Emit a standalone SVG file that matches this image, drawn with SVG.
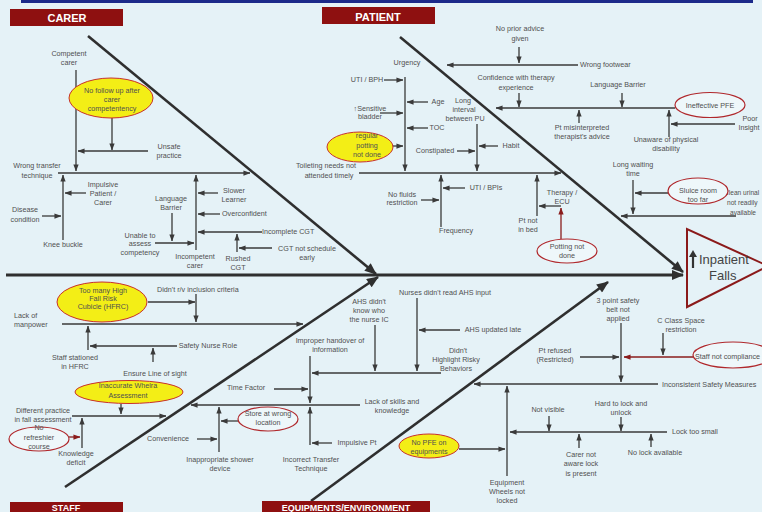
<svg xmlns="http://www.w3.org/2000/svg" width="762" height="512" viewBox="0 0 762 512">
<defs>
<style>
.t{font-family:"Liberation Sans",Arial,sans-serif;font-size:7.2px;fill:#505050;text-anchor:middle}
.s{text-anchor:start}
.l{stroke:#3a3a3a;stroke-width:1.3;fill:none;marker-end:url(#a)}
.lr{stroke:#8a1c1c;stroke-width:1.3;fill:none;marker-end:url(#r)}
.d{stroke:#2f2f2f;stroke-width:2.6;fill:none;marker-end:url(#b)}
.y{fill:#f3ee16;stroke:#c8302c;stroke-width:1}
.e{fill:#eef7fa;stroke:#b0282c;stroke-width:1.2}
.h{fill:#8e1010}
.ht{font-family:"Liberation Sans",Arial,sans-serif;font-size:11px;font-weight:bold;fill:#ffffff;text-anchor:middle}
</style>
<marker id="a" viewBox="0 0 8 6" refX="7.5" refY="3" markerWidth="7" markerHeight="5.5" orient="auto" markerUnits="userSpaceOnUse"><path d="M0,0L8,3L0,6z" fill="#3a3a3a"/></marker>
<marker id="r" viewBox="0 0 8 6" refX="7.5" refY="3" markerWidth="7" markerHeight="5.5" orient="auto" markerUnits="userSpaceOnUse"><path d="M0,0L8,3L0,6z" fill="#8a1c1c"/></marker>
<marker id="b" viewBox="0 0 12 10" refX="11" refY="5" markerWidth="13" markerHeight="10" orient="auto" markerUnits="userSpaceOnUse"><path d="M0,0L12,5L0,10z" fill="#2f2f2f"/></marker>
</defs>
<rect x="0" y="0" width="762" height="512" fill="#e5f2f7"/>
<rect x="21" y="0" width="732" height="3" fill="#1c2a8a"/>

<g id="connectors">
<line class="d" x1="6" y1="275" x2="683" y2="275" style="stroke-width:3"/>
<line class="d" x1="88" y1="36" x2="376" y2="274"/>
<line class="d" x1="400" y1="37" x2="683" y2="272"/>
<line class="d" x1="65" y1="487" x2="378" y2="277"/>
<line class="d" x1="311" y1="501" x2="608" y2="282"/>

<line class="l" x1="58" y1="173" x2="250" y2="173"/>
<line class="l" x1="76" y1="70" x2="76" y2="171"/>
<line class="l" x1="148" y1="151" x2="78" y2="151"/>
<line class="l" x1="112" y1="118" x2="112" y2="150"/>
<line class="l" x1="63" y1="240" x2="63" y2="175"/>
<line class="l" x1="86" y1="193" x2="65" y2="193"/>
<line class="l" x1="42" y1="216" x2="61" y2="216"/>
<line class="l" x1="196" y1="250" x2="196" y2="175"/>
<line class="l" x1="218" y1="193" x2="198" y2="193"/>
<line class="l" x1="220" y1="214" x2="198" y2="214"/>
<line class="l" x1="262" y1="232" x2="198" y2="232"/>
<line class="l" x1="237" y1="252" x2="237" y2="234"/>
<line class="l" x1="272" y1="248" x2="239" y2="248"/>
<line class="l" x1="172" y1="213" x2="172" y2="241"/>
<line class="l" x1="155" y1="243" x2="194" y2="243"/>

<line class="l" x1="519" y1="47" x2="519" y2="63"/>
<line class="l" x1="578" y1="65" x2="447" y2="65"/>
<line class="l" x1="519" y1="93" x2="519" y2="107"/>
<line class="l" x1="622" y1="93" x2="622" y2="107"/>
<line class="l" x1="675" y1="108" x2="496" y2="108"/>
<line class="l" x1="579" y1="123" x2="579" y2="110"/>
<line class="l" x1="669" y1="137" x2="669" y2="110"/>
<line class="l" x1="735" y1="124" x2="671" y2="124"/>
<line class="l" x1="405" y1="77" x2="405" y2="171"/>
<line class="l" x1="384" y1="80" x2="403" y2="80"/>
<line class="l" x1="428" y1="102" x2="407" y2="102"/>
<line class="l" x1="380" y1="113" x2="403" y2="113"/>
<line class="l" x1="428" y1="128" x2="407" y2="128"/>
<line class="l" x1="385" y1="146" x2="403" y2="146"/>
<line class="l" x1="477" y1="124" x2="477" y2="171"/>
<line class="l" x1="457" y1="151" x2="475" y2="151"/>
<line class="l" x1="498" y1="146" x2="479" y2="146"/>
<line class="l" x1="359" y1="173" x2="561" y2="173"/>
<line class="l" x1="441" y1="227" x2="441" y2="175"/>
<line class="l" x1="465" y1="188" x2="443" y2="188"/>
<line class="l" x1="421" y1="200" x2="439" y2="200"/>
<line class="l" x1="537" y1="216" x2="537" y2="175"/>
<line class="l" x1="561" y1="206" x2="539" y2="206"/>
<line class="lr" x1="561" y1="239" x2="561" y2="208"/>
<line class="l" x1="633" y1="180" x2="633" y2="214"/>
<line class="l" x1="668" y1="193" x2="635" y2="193"/>
<line class="l" x1="736" y1="216" x2="621" y2="216"/>

<line class="l" x1="148" y1="302" x2="195" y2="302"/>
<line class="l" x1="196" y1="294" x2="196" y2="322"/>
<line class="l" x1="62" y1="324" x2="303" y2="324"/>
<line class="l" x1="88" y1="350" x2="88" y2="326"/>
<line class="l" x1="177" y1="346" x2="90" y2="346"/>
<line class="l" x1="153" y1="362" x2="153" y2="348"/>
<line class="l" x1="121" y1="404" x2="121" y2="414"/>
<line class="l" x1="72" y1="416" x2="166" y2="416"/>
<line class="l" x1="82" y1="448" x2="82" y2="418"/>
<line class="lr" x1="58" y1="437" x2="80" y2="437"/>
<line class="l" x1="360" y1="405" x2="191" y2="405"/>
<line class="l" x1="247" y1="421" x2="221" y2="421"/>
<line class="l" x1="219" y1="452" x2="219" y2="407"/>
<line class="l" x1="197" y1="439" x2="217" y2="439"/>
<line class="l" x1="310" y1="356" x2="310" y2="403"/>
<line class="l" x1="274" y1="389" x2="308" y2="389"/>
<line class="l" x1="310" y1="445" x2="310" y2="407"/>
<line class="l" x1="332" y1="443" x2="312" y2="443"/>
<line class="l" x1="441" y1="373" x2="312" y2="373"/>
<line class="l" x1="375" y1="325" x2="375" y2="371"/>
<line class="l" x1="417" y1="298" x2="417" y2="371"/>
<line class="l" x1="460" y1="330" x2="419" y2="330"/>

<line class="l" x1="621" y1="323" x2="621" y2="382"/>
<line class="l" x1="663" y1="333" x2="663" y2="355"/>
<line class="l" x1="580" y1="357" x2="619" y2="357"/>
<line class="lr" x1="693" y1="357" x2="624" y2="357"/>
<line class="l" x1="658" y1="384" x2="474" y2="384"/>
<line class="l" x1="507" y1="476" x2="507" y2="386"/>
<line class="l" x1="459" y1="449" x2="505" y2="449"/>
<line class="l" x1="667" y1="432" x2="510" y2="432"/>
<line class="l" x1="549" y1="416" x2="549" y2="431"/>
<line class="l" x1="621" y1="417" x2="621" y2="431"/>
<line class="l" x1="579" y1="448" x2="579" y2="434"/>
<line class="l" x1="651" y1="447" x2="651" y2="434"/>
</g>

<g id="h-carer"><rect class="h" x="10" y="9" width="113" height="17"/><text class="ht" x="67" y="22">CARER</text></g>
<g id="h-patient"><rect class="h" x="322" y="7" width="113" height="17"/><text class="ht" x="378" y="20.5">PATIENT</text></g>
<g id="h-staff"><rect class="h" x="10" y="502" width="113" height="12"/><text class="ht" x="66" y="511" style="font-size:9px">STAFF</text></g>
<g id="h-equip"><rect class="h" x="262" y="501" width="168" height="13"/><text class="ht" x="346" y="511" style="font-size:9px">EQUIPMENTS/ENVIRONMENT</text></g>

<g id="outcome">
<polygon points="687,229 687,307 768,266" fill="none" stroke="#8b1a1a" stroke-width="2"/>
<line x1="693" y1="268" x2="693" y2="256" stroke="#333" stroke-width="2.2"/>
<path d="M689,257L693,250L697,257z" fill="#333"/>
<text x="699" y="264" style="font-family:'Liberation Sans',Arial,sans-serif;font-size:13px;fill:#444">Inpatient</text>
<text x="709" y="280" style="font-family:'Liberation Sans',Arial,sans-serif;font-size:13px;fill:#444">Falls</text>
</g>

<g id="n-competent"><text class="t" x="69" y="56">Competent</text><text class="t" x="69" y="65">carer</text></g>
<g id="n-nofollow"><ellipse class="y" cx="111" cy="98" rx="42" ry="20"/><text class="t" x="112" y="93">No follow up after</text><text class="t" x="112" y="102">carer</text><text class="t" x="112" y="111">competentency</text></g>
<g id="n-unsafe"><text class="t" x="169" y="149">Unsafe</text><text class="t" x="169" y="158">practice</text></g>
<g id="n-wrongtransfer"><text class="t" x="37" y="168">Wrong transfer</text><text class="t" x="37" y="178">technique</text></g>
<g id="n-impulsive"><text class="t" x="103" y="187">Impulsive</text><text class="t" x="103" y="196">Patient /</text><text class="t" x="103" y="205">Carer</text></g>
<g id="n-disease"><text class="t" x="25" y="212">Disease</text><text class="t" x="25" y="222">condition</text></g>
<g id="n-knee"><text class="t" x="63" y="247">Knee buckle</text></g>
<g id="n-langc"><text class="t" x="171" y="201">Language</text><text class="t" x="171" y="210">Barrier</text></g>
<g id="n-slower"><text class="t" x="234" y="193">Slower</text><text class="t" x="234" y="202">Learner</text></g>
<g id="n-overconf"><text class="t s" x="222" y="216">Overconfident</text></g>
<g id="n-incompcgt"><text class="t s" x="262" y="234">Incomplete CGT</text></g>
<g id="n-unable"><text class="t" x="140" y="238">Unable to</text><text class="t" x="140" y="246">assess</text><text class="t" x="140" y="255">competency</text></g>
<g id="n-incompcarer"><text class="t" x="195" y="259">Incompetent</text><text class="t" x="195" y="268">carer</text></g>
<g id="n-rushed"><text class="t" x="238" y="261">Rushed</text><text class="t" x="238" y="270">CGT</text></g>
<g id="n-cgtnot"><text class="t" x="307" y="251">CGT not schedule</text><text class="t" x="307" y="260">early</text></g>

<g id="n-noprior"><text class="t" x="520" y="31">No prior advice</text><text class="t" x="520" y="41">given</text></g>
<g id="n-footwear"><text class="t s" x="580" y="67">Wrong footwear</text></g>
<g id="n-confidence"><text class="t" x="516" y="80">Confidence with therapy</text><text class="t" x="516" y="90">experience</text></g>
<g id="n-langp"><text class="t" x="618" y="87">Language Barrier</text></g>
<g id="n-pfe"><ellipse class="e" cx="710" cy="105" rx="35" ry="12.5"/><text class="t" x="710" y="108">Ineffective PFE</text></g>
<g id="n-misint"><text class="t" x="582" y="130">Pt misinterpreted</text><text class="t" x="582" y="139">therapist's advice</text></g>
<g id="n-unaware"><text class="t" x="666" y="142">Unaware of physical</text><text class="t" x="666" y="151">disability</text></g>
<g id="n-poor"><text class="t" x="750" y="121">Poor</text><text class="t" x="749" y="130">Insight</text></g>
<g id="n-urgency"><text class="t" x="407" y="65">Urgency</text></g>
<g id="n-utibph"><text class="t" x="367" y="82">UTI / BPH</text></g>
<g id="n-age"><text class="t" x="438" y="104">Age</text></g>
<g id="n-sensitive"><text class="t" x="370" y="111">↑Sensitive</text><text class="t" x="370" y="119">bladder</text></g>
<g id="n-toc"><text class="t" x="437" y="130">TOC</text></g>
<g id="n-regular"><ellipse class="y" cx="360" cy="147" rx="33" ry="15"/><text class="t" x="367" y="138">regular</text><text class="t" x="367" y="148">potting</text><text class="t" x="367" y="157">not done</text></g>
<g id="n-long"><text class="t" x="463" y="103">Long</text><text class="t" x="464" y="112">interval</text><text class="t" x="465" y="121">between PU</text></g>
<g id="n-constip"><text class="t" x="435" y="153">Constipated</text></g>
<g id="n-habit"><text class="t" x="511" y="148">Habit</text></g>
<g id="n-toileting"><text class="t" x="326" y="168">Toileting needs not</text><text class="t" x="329" y="178">attended timely</text></g>
<g id="n-utibpi"><text class="t" x="486" y="190">UTI / BPIs</text></g>
<g id="n-nofluids"><text class="t" x="402" y="197">No fluids</text><text class="t" x="402" y="205">restriction</text></g>
<g id="n-frequency"><text class="t" x="456" y="233">Frequency</text></g>
<g id="n-therapy"><text class="t" x="562" y="195">Therapy /</text><text class="t" x="562" y="204">ECU</text></g>
<g id="n-ptnotbed"><text class="t" x="528" y="223">Pt not</text><text class="t" x="528" y="232">in bed</text></g>
<g id="n-pottingnot"><ellipse class="e" cx="567" cy="251" rx="30" ry="12"/><text class="t" x="567" y="249">Potting not</text><text class="t" x="567" y="258">done</text></g>
<g id="n-longwait"><text class="t" x="633" y="167">Long waiting</text><text class="t" x="633" y="176">time</text></g>
<g id="n-clean"><text class="t s" x="724" y="195" style="font-size:6.6px">Clean urinal</text><text class="t s" x="727" y="205" style="font-size:6.6px">not readily</text><text class="t s" x="730" y="215" style="font-size:6.6px">available</text></g>
<g id="n-sluice"><ellipse class="e" cx="698" cy="191" rx="30" ry="13"/><text class="t" x="698" y="193">Sluice room</text><text class="t" x="698" y="202">too far</text></g>

<g id="n-toomany"><ellipse class="y" cx="102" cy="302" rx="45" ry="20"/><text class="t" x="103" y="293">Too many High</text><text class="t" x="103" y="301">Fall Risk</text><text class="t" x="103" y="309">Cubicle (HFRC)</text></g>
<g id="n-didntrv"><text class="t s" x="157" y="292">Didn't r/v inclusion criteria</text></g>
<g id="n-lackman"><text class="t s" x="14" y="318">Lack of</text><text class="t s" x="14" y="327">manpower</text></g>
<g id="n-stationed"><text class="t" x="75" y="360">Staff stationed</text><text class="t" x="75" y="369">in HFRC</text></g>
<g id="n-safetynurse"><text class="t" x="208" y="348">Safety Nurse Role</text></g>
<g id="n-ensure"><text class="t" x="155" y="376">Ensure Line of sight</text></g>
<g id="n-whelra"><ellipse class="y" cx="129" cy="392" rx="54" ry="11.5"/><text class="t" x="128" y="388">Inaccurate Whelra</text><text class="t" x="128" y="398">Assessment</text></g>
<g id="n-different"><text class="t" x="43" y="413">Different practice</text><text class="t" x="43" y="422">in fall assessment</text></g>
<g id="n-refresher"><ellipse class="e" cx="39" cy="439" rx="30" ry="12"/><text class="t" x="39" y="430">No</text><text class="t" x="39" y="440">refreshier</text><text class="t" x="39" y="449">course</text></g>
<g id="n-knowledge"><text class="t" x="76" y="456">Knowledge</text><text class="t" x="76" y="465">deficit</text></g>
<g id="n-convenience"><text class="t" x="168" y="441">Convenience</text></g>
<g id="n-shower"><text class="t" x="220" y="462">Inappropriate shower</text><text class="t" x="220" y="471">device</text></g>
<g id="n-store"><ellipse class="e" cx="268" cy="419" rx="30" ry="12"/><text class="t" x="268" y="416">Store at wrong</text><text class="t" x="268" y="425">location</text></g>
<g id="n-time"><text class="t" x="246" y="390">Time Factor</text></g>
<g id="n-lackskills"><text class="t" x="392" y="404">Lack of skills and</text><text class="t" x="392" y="413">knowledge</text></g>
<g id="n-improper"><text class="t" x="330" y="343">Improper handover of</text><text class="t" x="330" y="352">information</text></g>
<g id="n-impulsivept"><text class="t" x="357" y="445">Impulsive Pt</text></g>
<g id="n-incorrect"><text class="t" x="311" y="462">Incorrect Transfer</text><text class="t" x="311" y="471">Technique</text></g>
<g id="n-ahsknow"><text class="t" x="369" y="304">AHS didn't</text><text class="t" x="369" y="313">know who</text><text class="t" x="369" y="322">the nurse IC</text></g>
<g id="n-nurses"><text class="t" x="445" y="295">Nurses didn't read AHS input</text></g>
<g id="n-ahslate"><text class="t" x="493" y="332">AHS updated late</text></g>
<g id="n-highlight"><text class="t" x="458" y="353">Didn't</text><text class="t" x="456" y="362">Highlight Risky</text><text class="t" x="456" y="371">Behaviors</text></g>

<g id="n-3point"><text class="t" x="618" y="303">3 point safety</text><text class="t" x="618" y="312">belt not</text><text class="t" x="618" y="321">applied</text></g>
<g id="n-cclass"><text class="t" x="681" y="323">C Class Space</text><text class="t" x="681" y="332">restriction</text></g>
<g id="n-refused"><text class="t" x="555" y="353">Pt refused</text><text class="t" x="555" y="362">(Restricted)</text></g>
<g id="n-staffnot"><ellipse class="e" cx="733" cy="355" rx="40" ry="13"/><text class="t s" x="695" y="359">Staff not compliance</text></g>
<g id="n-inconsistent"><text class="t s" x="662" y="387">Inconsistent Safety Measures</text></g>
<g id="n-wheels"><text class="t" x="507" y="485">Equipment</text><text class="t" x="507" y="494">Wheels not</text><text class="t" x="507" y="503">locked</text></g>
<g id="n-nopfe"><ellipse class="y" cx="429" cy="446" rx="30" ry="12"/><text class="t" x="429" y="445">No PFE on</text><text class="t" x="429" y="454">equipments</text></g>
<g id="n-locksmall"><text class="t s" x="672" y="434">Lock too small</text></g>
<g id="n-notvisible"><text class="t" x="548" y="412">Not visible</text></g>
<g id="n-hardlock"><text class="t" x="621" y="406">Hard to lock and</text><text class="t" x="621" y="415">unlock</text></g>
<g id="n-carernot"><text class="t" x="581" y="457">Carer not</text><text class="t" x="581" y="466">aware lock</text><text class="t" x="581" y="476">is present</text></g>
<g id="n-nolock"><text class="t" x="655" y="455">No lock available</text></g>
</svg>
